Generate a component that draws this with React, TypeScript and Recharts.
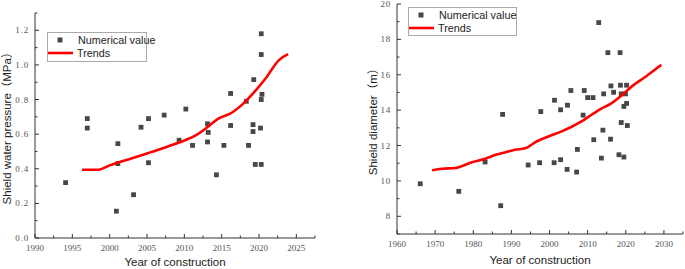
import { ScatterChart, Scatter, XAxis, YAxis } from 'recharts'

// Left panel: shield water pressure (MPa)
const pressureYears = [
  1994.1, 1997.0, 1997.0, 2000.9, 2001.1, 2001.1, 2003.2, 2004.2, 2005.2, 2005.2, 2007.3,
  2009.3, 2010.2, 2011.1, 2013.1, 2013.2, 2013.1, 2014.3, 2015.3, 2016.2, 2016.2, 2018.3,
  2018.6, 2019.3, 2019.2, 2019.2, 2019.5, 2020.3, 2020.3, 2020.4, 2020.3, 2020.2, 2020.3,
]
const pressureValues = [
  0.32, 0.69, 0.635, 0.155, 0.545, 0.43, 0.25, 0.64, 0.69, 0.435, 0.71,
  0.565, 0.745, 0.535, 0.66, 0.61, 0.555, 0.365, 0.535, 0.835, 0.65, 0.79,
  0.535, 0.915, 0.655, 0.615, 0.425, 1.18, 1.06, 0.83, 0.8, 0.635, 0.425,
]
const pressureTrendYears = [
  1996.3, 1998.3, 2000.1, 2003.1, 2005.1, 2007.8, 2010.0, 2011.4, 2013.2, 2014.5, 2016.4,
  2017.7, 2019.3, 2020.9, 2022.7, 2023.9,
]
const pressureTrendValues = [
  0.394, 0.394, 0.421, 0.462, 0.49, 0.529, 0.563, 0.59, 0.644, 0.688, 0.725,
  0.769, 0.84, 0.923, 1.029, 1.062,
]
const pressureXTicks = [1990, 1992.5, 1995, 1997.5, 2000, 2002.5, 2005, 2007.5, 2010, 2012.5, 2015, 2017.5, 2020, 2022.5, 2025, 2027.5]
const pressureYTicks = [0, 0.1, 0.2, 0.3, 0.4, 0.5, 0.6, 0.7, 0.8, 0.9, 1.0, 1.1, 1.2, 1.3]

// Right panel: shield diameter (m)
const diameterYears = [
  1966.1, 1976.2, 1983.1, 1987.2, 1987.7, 1994.4, 1997.4, 1997.7, 2001.2, 2001.3, 2002.9,
  2002.9, 2004.6, 2004.7, 2005.6, 2007.1, 2007.3, 2008.8, 2009.1, 2010.0, 2011.4, 2011.6,
  2012.9, 2013.6, 2014.0, 2014.2, 2015.3, 2016.0, 2016.1, 2016.8, 2018.2, 2018.5, 2018.6,
  2018.8, 2018.8, 2019.5, 2019.5, 2019.9, 2020.2, 2020.2, 2020.4,
]
const diameterValues = [
  9.84, 9.41, 11.07, 8.6, 13.76, 10.9, 11.03, 13.92, 11.03, 14.56, 11.2,
  14.02, 10.65, 14.28, 15.11, 10.5, 11.78, 13.72, 15.11, 14.71, 14.71, 12.33,
  18.95, 11.29, 12.87, 14.92, 17.25, 12.36, 15.37, 15.01, 11.48, 17.25, 15.41,
  14.92, 13.3, 11.35, 14.21, 14.92, 15.41, 14.38, 13.13,
]
const diameterTrendYears = [
  1969.2, 1971.8, 1975.3, 1979.6, 1983.1, 1985.7, 1988.3, 1990.9, 1993.6, 1996.6, 1999.7,
  2003.2, 2005.8, 2008.4, 2011.0, 2013.6, 2016.2, 2018.8, 2021.5, 2025.0, 2027.6, 2029.3,
]
const diameterTrendValues = [
  10.6, 10.69, 10.73, 11.05, 11.25, 11.46, 11.61, 11.76, 11.84, 12.23, 12.51,
  12.8, 13.06, 13.36, 13.74, 14.09, 14.38, 14.81, 15.33, 15.86, 16.28, 16.56,
]
const diameterXTicks = [1960, 1965, 1970, 1975, 1980, 1985, 1990, 1995, 2000, 2005, 2010, 2015, 2020, 2025, 2030, 2035]
const diameterYTicks = [7, 8, 9, 10, 11, 12, 13, 14, 15, 16, 17, 18, 19, 20]

const pair = (xs: number[], ys: number[]) => xs.map((x, i) => ({ x, y: ys[i] }))

const AXIS = '#333'
const TICK_FONT = '"Liberation Serif", "DejaVu Serif", serif'
const TITLE_FONT = '"Liberation Sans", Arial, "Noto Sans CJK SC", sans-serif'

function Square(props: any) {
  const { cx, cy } = props
  if (cx == null || cy == null) return <g />
  return <rect x={cx - 2.4} y={cy - 2.4} width={4.8} height={4.8} fill="#474747" />
}

function makeXTick(isMajor: (v: number) => boolean) {
  return (props: any) => {
    const { x, y, payload } = props
    const major = isMajor(payload.value)
    return (
      <g>
        <line x1={x} x2={x} y1={y} y2={y - (major ? 4 : 2.5)} stroke={AXIS} />
        {major && (
          <text x={x} y={y + 13} textAnchor="middle" fontSize={9} fontFamily={TICK_FONT} fill="#555">
            {payload.value}
          </text>
        )}
      </g>
    )
  }
}

function makeYTick(isMajor: (v: number) => boolean, fmt: (v: number) => string) {
  return (props: any) => {
    const { x, y, payload } = props
    const major = isMajor(payload.value)
    return (
      <g>
        <line x1={x} x2={x + (major ? 4 : 2.5)} y1={y} y2={y} stroke={AXIS} />
        {major && (
          <text x={x - 6} y={y + 3} textAnchor="end" fontSize={9} fontFamily={TICK_FONT} fill="#555" letterSpacing={0.8}>
            {fmt(payload.value)}
          </text>
        )}
      </g>
    )
  }
}

function xTitle(text: string, dy: number) {
  return (props: any) => {
    const vb = props.viewBox
    return (
      <text x={vb.x + vb.width / 2} y={vb.y + dy} textAnchor="middle" fontSize={11.5} fontFamily={TITLE_FONT} fill="#222">
        {text}
      </text>
    )
  }
}

function yTitle(text: string, dx: number) {
  return (props: any) => {
    const vb = props.viewBox
    const cx = vb.x + dx
    const cy = vb.y + vb.height / 2
    return (
      <text
        x={cx}
        y={cy}
        transform={`rotate(-90 ${cx} ${cy})`}
        textAnchor="middle"
        dominantBaseline="central"
        fontSize={11.5}
        fontFamily={TITLE_FONT}
        fill="#222"
      >
        {text}
      </text>
    )
  }
}

function LegendBox({ left, top, width, height }: { left: number; top: number; width: number; height: number }) {
  const rowStyle: React.CSSProperties = { position: 'absolute', left: 0, display: 'flex', alignItems: 'center', whiteSpace: 'nowrap' }
  return (
    <div
      style={{
        position: 'absolute',
        left,
        top,
        width,
        height,
        border: '1px solid #aaa',
        boxSizing: 'border-box',
        fontFamily: TITLE_FONT,
        fontSize: 10.8,
        color: '#222',
        background: '#fff',
      }}
    >
      <div style={{ ...rowStyle, top: 1 }}>
        <svg width={28} height={12}>
          <rect x={9.5} y={3.5} width={5} height={5} fill="#474747" />
        </svg>
        <span style={{ marginLeft: 2 }}>Numerical value</span>
      </div>
      <div style={{ ...rowStyle, top: 14 }}>
        <svg width={28} height={12}>
          <line x1={0} x2={25} y1={6} y2={6} stroke="#ff0000" strokeWidth={2.6} />
        </svg>
        <span style={{ marginLeft: 1 }}>Trends</span>
      </div>
    </div>
  )
}

export default function App() {
  const pressurePoints = pair(pressureYears, pressureValues)
  const pressureTrend = pair(pressureTrendYears, pressureTrendValues)
  const diameterPoints = pair(diameterYears, diameterValues)
  const diameterTrend = pair(diameterTrendYears, diameterTrendValues)

  return (
    <div style={{ position: 'absolute', left: 0, top: 0, width: 685, height: 269, background: '#fff' }}>
      {/* left panel */}
      <div style={{ position: 'absolute', left: 0, top: 0 }}>
        <ScatterChart width={340} height={269} margin={{ top: 13, right: 25, bottom: 0, left: 0 }}>
          <XAxis
            type="number"
            dataKey="x"
            domain={[1990, 2027.5]}
            ticks={pressureXTicks}
            interval={0}
            height={31}
            tickSize={0}
            tickMargin={0}
            tickLine={false}
            axisLine={{ stroke: AXIS }}
            tick={makeXTick(v => v % 5 === 0)}
            label={xTitle('Year of construction', 28)}
          />
          <YAxis
            type="number"
            dataKey="y"
            domain={[0, 1.3]}
            ticks={pressureYTicks}
            interval={0}
            width={35}
            tickSize={0}
            tickMargin={0}
            tickLine={false}
            axisLine={{ stroke: AXIS }}
            tick={makeYTick(v => Math.round(v * 10) % 2 === 0, v => v.toFixed(1))}
            label={yTitle('Shield water pressure（MPa）', 7)}
          />
          <Scatter data={pressurePoints} shape={Square} isAnimationActive={false} />
          <Scatter
            data={pressureTrend}
            line={{ stroke: '#ff0000', strokeWidth: 2.6 }}
            lineJointType="monotoneX"
            shape={() => <g />}
            isAnimationActive={false}
          />
        </ScatterChart>
        <LegendBox left={47} top={32} width={100} height={30} />
      </div>

      {/* right panel */}
      <div style={{ position: 'absolute', left: 345, top: 0 }}>
        <ScatterChart width={340} height={269} margin={{ top: 4, right: 2, bottom: 0, left: 0 }}>
          <XAxis
            type="number"
            dataKey="x"
            domain={[1960, 2035]}
            ticks={diameterXTicks}
            interval={0}
            height={35}
            tickSize={0}
            tickMargin={0}
            tickLine={false}
            axisLine={{ stroke: AXIS }}
            tick={makeXTick(v => v % 10 === 0)}
            label={xTitle('Year of construction', 30)}
          />
          <YAxis
            type="number"
            dataKey="y"
            domain={[7, 20]}
            ticks={diameterYTicks}
            interval={0}
            width={52}
            tickSize={0}
            tickMargin={0}
            tickLine={false}
            axisLine={{ stroke: AXIS }}
            tick={makeYTick(v => v % 2 === 0, v => String(v))}
            label={yTitle('Shield diameter（m）', 28)}
          />
          <Scatter data={diameterPoints} shape={Square} isAnimationActive={false} />
          <Scatter
            data={diameterTrend}
            line={{ stroke: '#ff0000', strokeWidth: 2.6 }}
            lineJointType="monotoneX"
            shape={() => <g />}
            isAnimationActive={false}
          />
        </ScatterChart>
        <LegendBox left={63} top={7} width={109} height={29} />
      </div>
    </div>
  )
}
